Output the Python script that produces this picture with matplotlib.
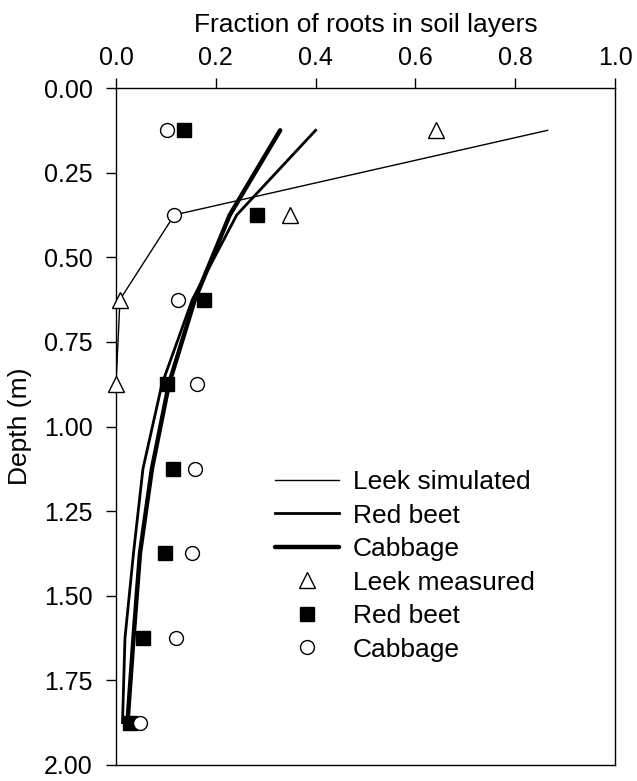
import numpy as np
import matplotlib
matplotlib.use("Agg")
import matplotlib.pyplot as plt

plt.rcParams["font.family"] = ["Liberation Sans", "DejaVu Sans"]

# depths of soil layers (m)
depth = [0.125, 0.375, 0.625, 0.875, 1.125, 1.375, 1.625, 1.875]
depth_leek = [0.125, 0.375, 0.625, 0.875]

# simulated root fractions
leek_sim = [0.865, 0.117, 0.008, 0.0]
beet_sim = [0.400, 0.242, 0.153, 0.092, 0.054, 0.035, 0.018, 0.013]
cabbage_sim = [0.329, 0.228, 0.158, 0.106, 0.072, 0.048, 0.035, 0.023]

# measured root fractions
leek_meas = [0.641, 0.349, 0.008, 0.0]
beet_meas = [0.137, 0.283, 0.176, 0.103, 0.115, 0.098, 0.054, 0.029]
cabbage_meas = [0.102, 0.117, 0.125, 0.162, 0.158, 0.153, 0.120, 0.048]

fig = plt.figure(figsize=(6.37, 7.81), dpi=100)
ax = fig.add_axes([116 / 637, 1 - 765 / 781, 499 / 637, 677 / 781])

ax.plot(leek_sim, depth_leek, color="black", lw=1.0, label="Leek simulated", zorder=2)
ax.plot(beet_sim, depth, color="black", lw=2.0, label="Red beet", zorder=2)
ax.plot(cabbage_sim, depth, color="black", lw=3.2, solid_capstyle="round",
        label="Cabbage", zorder=2)

ax.plot(leek_meas, depth_leek, ls="none", marker="^", ms=11, mfc="white",
        mec="black", mew=1.0, label="Leek measured", zorder=3, clip_on=False)
ax.plot(beet_meas, depth, ls="none", marker="s", ms=10.5, mfc="black",
        mec="black", mew=1.0, label="Red beet", zorder=3)
ax.plot(cabbage_meas, depth, ls="none", marker="o", ms=10, mfc="white",
        mec="black", mew=1.0, label="Cabbage", zorder=3)

ax.set_xlim(0, 1.0)
ax.set_ylim(2.0, 0.0)
ax.set_xticks(np.arange(0, 1.01, 0.2))
ax.set_yticks(np.arange(0, 2.01, 0.25))
ax.xaxis.set_major_formatter(matplotlib.ticker.FormatStrFormatter("%.1f"))
ax.yaxis.set_major_formatter(matplotlib.ticker.FormatStrFormatter("%.2f"))
ax.xaxis.tick_top()
ax.xaxis.set_label_position("top")
ax.tick_params(axis="both", direction="out", length=7, width=1.0,
               labelsize=18, color="black")
ax.tick_params(axis="x", pad=6)
ax.tick_params(axis="y", pad=10)
for s in ax.spines.values():
    s.set_linewidth(1.0)

ax.set_xlabel("Fraction of roots in soil layers", fontsize=19, labelpad=10)
ax.set_ylabel("Depth (m)", fontsize=19, labelpad=8)

ax.legend(loc="center left", bbox_to_anchor=(0.319, 0.294), frameon=False,
          fontsize=19, handlelength=2.4, handletextpad=0.55, labelspacing=0.36,
          borderpad=0, borderaxespad=0, numpoints=1)

fig.savefig("out.png", dpi=100)
